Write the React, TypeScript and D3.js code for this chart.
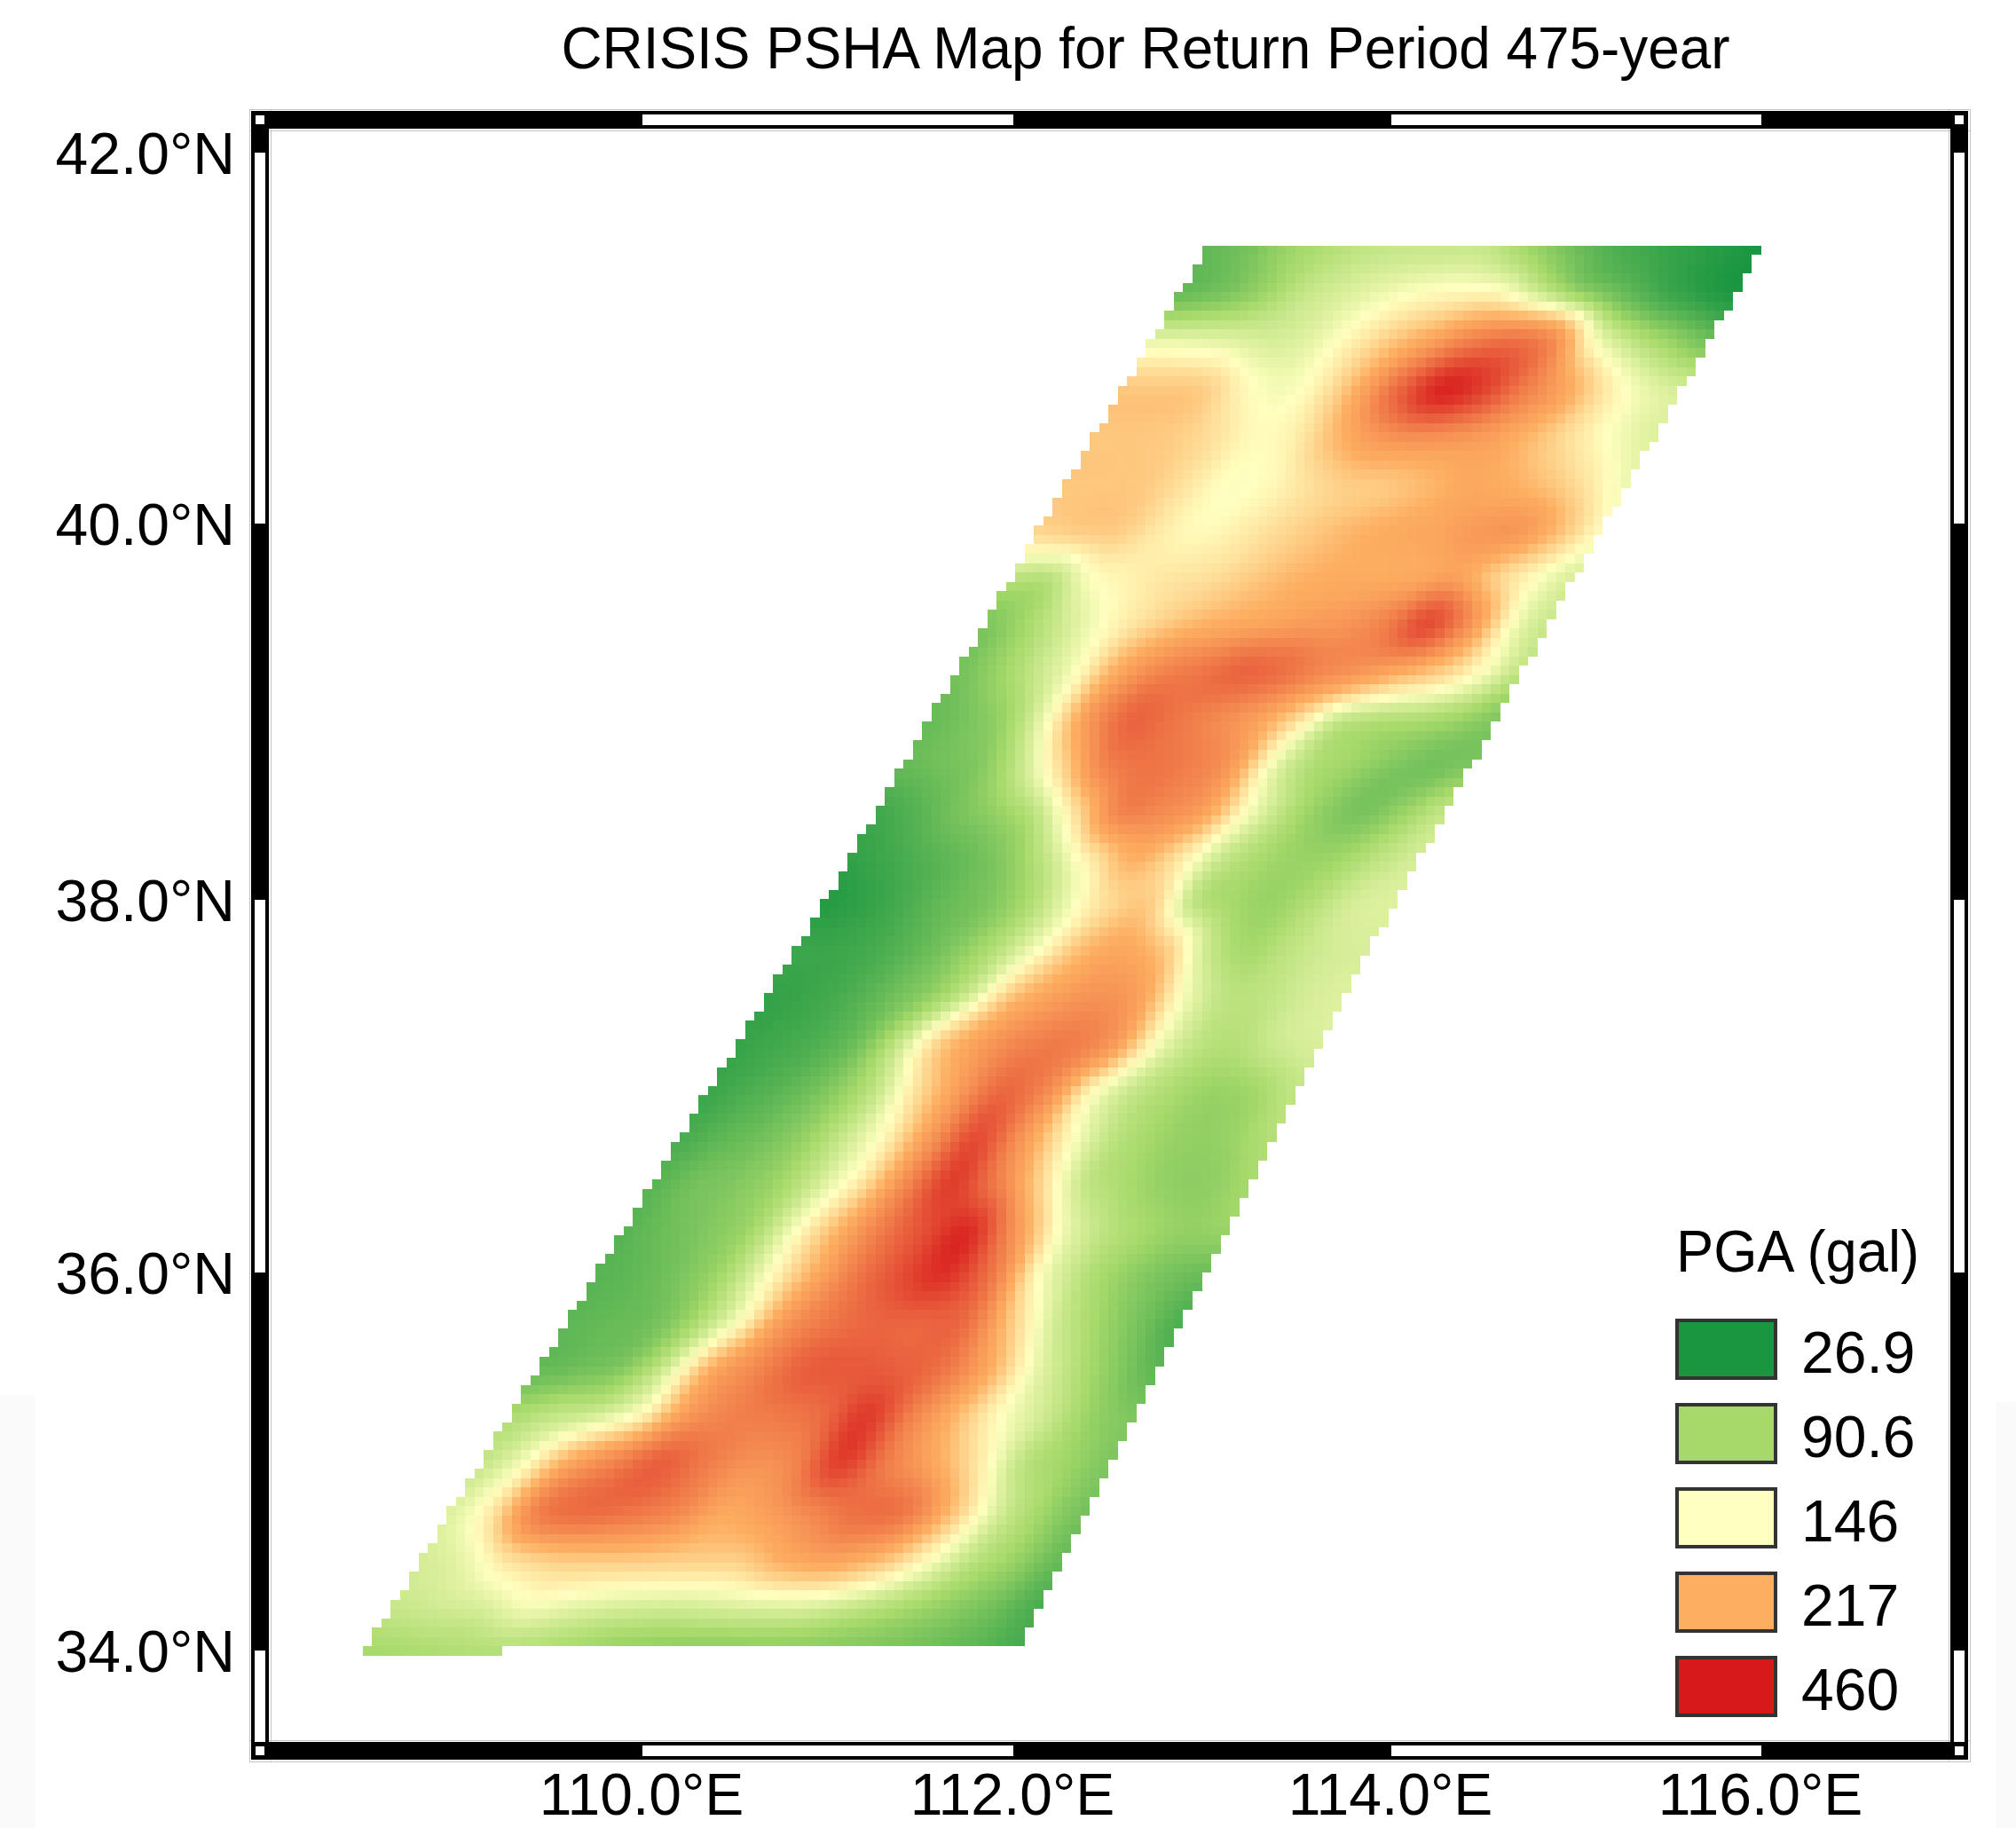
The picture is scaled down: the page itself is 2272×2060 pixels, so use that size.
import React, { useEffect, useRef } from "react";
import * as d3 from "d3";

const titleText = "CRISIS PSHA Map for Return Period 475-year";
const legendTitle = "PGA (gal)";
const legendValues = [26.9, 90.6, 146, 217, 460];
const legendLabels = ["26.9", "90.6", "146", "217", "460"];
const legendColors = ["#1a9641", "#a6d96a", "#ffffbf", "#fdae61", "#d7191c"];

const lonTicks = [110, 112, 114, 116];
const latTicks = [42, 40, 38, 36, 34];

const westEdgeLats = [34, 36.6, 38.1, 40, 41.5];
const westEdgeLons = [108.51, 110.11, 111.03, 112.12, 113.02];
const eastEdgeLats = [34, 36.2, 37.4, 40, 41.5];
const eastEdgeLons = [112.0, 113.12, 113.7, 115.14, 116.0];
const lastRowEastLon = 109.26;

// PGA: one row per 0.25 deg of latitude, north to south,
// 15 samples spaced evenly from the west edge of the swath to the east edge
const pgaRows = [
  [60, 68, 85, 98, 108, 112, 112, 112, 92, 72, 55, 45, 38, 32, 27],
  [65, 72, 86, 108, 122, 136, 150, 158, 160, 128, 95, 70, 50, 38, 30],
  [135, 135, 130, 122, 130, 158, 195, 240, 300, 325, 285, 158, 112, 88, 70],
  [195, 195, 190, 155, 140, 165, 230, 340, 440, 395, 300, 235, 170, 135, 120],
  [195, 195, 190, 172, 150, 160, 205, 250, 268, 260, 240, 205, 170, 142, 125],
  [195, 195, 192, 170, 146, 150, 172, 190, 195, 208, 225, 218, 198, 168, 135],
  [182, 190, 190, 165, 150, 160, 178, 195, 212, 222, 232, 250, 250, 200, 150],
  [105, 105, 145, 158, 168, 175, 192, 210, 220, 222, 226, 240, 190, 150, 122],
  [72, 90, 118, 148, 178, 205, 222, 235, 248, 258, 295, 375, 265, 150, 112],
  [68, 85, 112, 148, 225, 280, 305, 335, 320, 280, 255, 225, 190, 145, 105],
  [62, 72, 92, 150, 255, 335, 312, 280, 245, 185, 122, 105, 100, 90, 75],
  [62, 68, 78, 118, 190, 290, 312, 295, 255, 146, 100, 88, 75, 68, 72],
  [45, 55, 70, 85, 112, 185, 285, 275, 240, 152, 105, 80, 70, 85, 108],
  [38, 45, 55, 65, 82, 118, 170, 218, 175, 118, 95, 85, 88, 105, 120],
  [32, 38, 48, 62, 72, 95, 135, 178, 190, 112, 92, 85, 100, 120, 125],
  [42, 42, 48, 60, 78, 105, 148, 205, 228, 195, 118, 92, 105, 118, 122],
  [38, 42, 50, 65, 85, 125, 200, 240, 262, 240, 150, 108, 105, 118, 125],
  [40, 45, 52, 70, 118, 195, 250, 290, 298, 252, 150, 108, 100, 115, 122],
  [42, 50, 60, 78, 110, 175, 250, 330, 280, 165, 115, 96, 85, 90, 108],
  [48, 58, 68, 85, 118, 165, 262, 375, 265, 165, 112, 92, 82, 85, 100],
  [55, 68, 75, 90, 125, 178, 285, 400, 305, 190, 115, 95, 82, 80, 92],
  [55, 65, 75, 92, 145, 215, 300, 375, 428, 265, 150, 108, 92, 82, 85],
  [55, 60, 72, 95, 148, 222, 305, 372, 418, 320, 165, 110, 85, 70, 62],
  [58, 62, 68, 98, 155, 255, 310, 335, 335, 328, 205, 125, 92, 70, 50],
  [62, 68, 80, 128, 228, 285, 345, 355, 350, 318, 238, 148, 105, 78, 58],
  [95, 110, 125, 162, 255, 290, 300, 325, 405, 290, 210, 148, 115, 85, 72],
  [110, 146, 230, 290, 345, 300, 262, 285, 395, 300, 235, 170, 108, 88, 72],
  [125, 172, 295, 325, 312, 280, 228, 245, 285, 320, 305, 205, 125, 90, 68],
  [120, 135, 178, 195, 198, 195, 190, 192, 225, 238, 210, 155, 108, 85, 62],
  [112, 118, 125, 142, 132, 125, 122, 125, 130, 130, 115, 98, 82, 68, 50],
  [92, 95, 98, 100, 95, 85, 80, 78, 78, 78, 76, 72, 66, 58, 48],
];

const FONT = "'Liberation Sans', Arial, sans-serif";
const FONT_SIZE = 66;
const width = 2272;
const height = 2060;
const frame = { left: 283, right: 2218, top: 125, bottom: 1983, band: 20 };

const rowStep = 0.25;
const cellDeg = 0.05;

// smooths the read samples for the 0.05 deg raster cells
const catmull = (a: number, b: number, c: number, d: number, t: number) =>
  0.5 *
  (2 * b +
    (c - a) * t +
    (2 * a - 5 * b + 4 * c - d) * t * t +
    (3 * b - a - 3 * c + d) * t * t * t);

const sampleRow = (row: number[], u: number) => {
  const p = u * (row.length - 1);
  const i = Math.min(Math.floor(p), row.length - 2);
  const at = (k: number) => row[Math.max(0, Math.min(row.length - 1, k))];
  return catmull(at(i - 1), at(i), at(i + 1), at(i + 2), p - i);
};

const samplePga = (lat: number, u: number) => {
  const p = (41.5 - lat) / rowStep;
  const i = Math.min(Math.floor(p), pgaRows.length - 2);
  const at = (k: number) =>
    sampleRow(pgaRows[Math.max(0, Math.min(pgaRows.length - 1, k))], u);
  const v = catmull(at(i - 1), at(i), at(i + 1), at(i + 2), p - i);
  return Math.max(legendValues[0], Math.min(legendValues[4], v));
};

export default function App() {
  const ref = useRef<SVGSVGElement>(null);

  useEffect(() => {
    const svg = d3.select(ref.current);
    svg.selectAll("*").remove();

    const x = d3.scaleLinear().domain([110, 116]).range([724, 1985]);
    const y = d3.scaleLinear().domain([34, 41.5]).range([1860.5, 282]);
    // tick positions on the frame are not quite even in the source
    const frameX = d3.scaleLinear().domain(lonTicks).range([724, 1142, 1568, 1985]);
    const frameY = d3.scaleLinear().domain(latTicks).range([172, 590, 1014, 1434, 1860]);
    const color = d3
      .scaleLinear<string>()
      .domain(legendValues)
      .range(legendColors)
      .interpolate(d3.interpolateRgb);
    const westLon = d3.scaleLinear().domain(westEdgeLats).range(westEdgeLons);
    const eastLon = d3.scaleLinear().domain(eastEdgeLats).range(eastEdgeLons);

    // faint grey strips at the page edge
    svg.append("rect").attr("x", 0).attr("y", 1572).attr("width", 40).attr("height", height - 1572).attr("fill", "#fafafa");
    svg.append("rect").attr("x", 2250).attr("y", 1580).attr("width", 22).attr("height", height - 1580).attr("fill", "#fafafa");

    // raster cells
    const cells: { lon: number; lat: number; v: number }[] = [];
    d3.range(0, 151).forEach(k => {
      const lat = 34 + k * cellDeg;
      const west = westLon(lat);
      const east = k === 0 ? lastRowEastLon : eastLon(lat);
      const first = Math.round(west / cellDeg);
      const last = Math.round(east / cellDeg);
      const fullEast = eastLon(lat);
      d3.range(first, last).forEach(c => {
        const lon = c * cellDeg;
        const u = Math.max(0, Math.min(1, (lon + cellDeg / 2 - west) / (fullEast - west)));
        cells.push({ lon, lat, v: samplePga(lat, u) });
      });
    });

    svg
      .append("g")
      .attr("shape-rendering", "crispEdges")
      .selectAll("rect")
      .data(cells)
      .enter()
      .append("rect")
      .attr("x", d => Math.round(x(d.lon)))
      .attr("y", d => Math.round(y(d.lat + cellDeg / 2)))
      .attr("width", d => Math.round(x(d.lon + cellDeg)) - Math.round(x(d.lon)))
      .attr("height", d => Math.round(y(d.lat - cellDeg / 2)) - Math.round(y(d.lat + cellDeg / 2)))
      .attr("fill", d => color(d.v));

    // map frame: white band, black on alternate tick intervals
    const { left, right, top, bottom, band } = frame;
    const f = svg.append("g").attr("shape-rendering", "crispEdges");
    const bands = [
      { x: left, y: top, w: right - left, h: band },
      { x: left, y: bottom - band, w: right - left, h: band },
      { x: left, y: top, w: band, h: bottom - top },
      { x: right - band, y: top, w: band, h: bottom - top },
    ];
    bands.forEach(b => {
      f.append("rect")
        .attr("x", b.x - 2)
        .attr("y", b.y - 2)
        .attr("width", b.w + 4)
        .attr("height", b.h + 4)
        .attr("fill", "none")
        .attr("stroke", "#c4c4c4")
        .attr("stroke-width", 1);
    });
    bands.forEach(b => {
      f.append("rect")
        .attr("x", b.x + 2)
        .attr("y", b.y + 2)
        .attr("width", b.w - 4)
        .attr("height", b.h - 4)
        .attr("fill", "#fff")
        .attr("stroke", "#000")
        .attr("stroke-width", 4);
    });

    const xStops = [left, ...lonTicks.map(d => frameX(d)), right];
    [0, 2, 4].forEach(i => {
      [top, bottom - band].forEach(yy => {
        f.append("rect")
          .attr("x", xStops[i])
          .attr("y", yy)
          .attr("width", xStops[i + 1] - xStops[i])
          .attr("height", band)
          .attr("fill", "#000");
      });
    });
    const yStops = [top, ...latTicks.map(d => frameY(d)), bottom];
    [0, 2, 4].forEach(i => {
      [left, right - band].forEach(xx => {
        f.append("rect")
          .attr("x", xx)
          .attr("y", yStops[i])
          .attr("width", band)
          .attr("height", yStops[i + 1] - yStops[i])
          .attr("fill", "#000");
      });
    });
    // small white squares in the corners
    [left + 5, right - band + 5].forEach(xx => {
      [top + 5, bottom - band + 5].forEach(yy => {
        f.append("rect").attr("x", xx).attr("y", yy).attr("width", 10).attr("height", 10).attr("fill", "#fff");
      });
    });

    const label = (t: string, lx: number, ly: number, anchor: string) =>
      svg
        .append("text")
        .attr("x", lx)
        .attr("y", ly)
        .attr("text-anchor", anchor)
        .attr("font-family", FONT)
        .attr("font-size", FONT_SIZE)
        .attr("fill", "#000")
        .text(t);

    label(titleText, 1291, 77, "middle")
      .attr("textLength", 1317)
      .attr("lengthAdjust", "spacingAndGlyphs");
    latTicks.forEach(d => label(d.toFixed(1) + "\u00B0N", 265, frameY(d) + 24, "end"));
    // kept just inside the page so the text box is not cut at the bottom
    lonTicks.forEach(d => label(d.toFixed(1) + "\u00B0E", frameX(d) - 1, 2045, "middle"));

    // legend
    label(legendTitle, 1889, 1433, "start")
      .attr("textLength", 274)
      .attr("lengthAdjust", "spacingAndGlyphs");
    const legendY = d3.scalePoint<string>().domain(legendLabels).range([1488, 1868]);
    legendLabels.forEach((d, i) => {
      svg
        .append("rect")
        .attr("x", 1890)
        .attr("y", legendY(d)!)
        .attr("width", 111)
        .attr("height", 65)
        .attr("fill", legendColors[i])
        .attr("stroke", "#333")
        .attr("stroke-width", 4);
      label(d, 2030, legendY(d)! + 59, "start");
    });
  }, []);

  return (
    <svg
      ref={ref}
      width={width}
      height={height}
      style={{ position: "absolute", left: 0, top: 0, background: "#fff" }}
    />
  );
}
